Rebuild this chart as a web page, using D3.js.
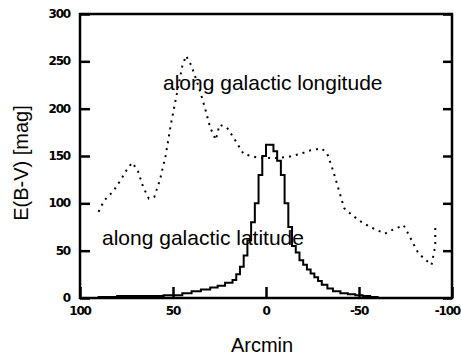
<!DOCTYPE html>
<html lang="en">
<head>
  <meta charset="UTF-8">
  <title>E(B-V) profiles</title>
  <script src="https://d3js.org/d3.v7.min.js"></script>
  <style>
    body { margin: 0; background: #fff; overflow: hidden; }
    .tick-label { font-family: "DejaVu Sans", sans-serif; font-weight: bold; font-size: 12px; letter-spacing: -1.2px; fill: #000; }
    .title { font-family: "Liberation Sans", Arial, sans-serif; fill: #000; }
  </style>
</head>
<body>
<svg id="chart" width="461" height="357"></svg>
<script>
const width = 461, height = 357;
const margin = { top: 14, right: 9, bottom: 59, left: 80 };

// along galactic longitude (dotted)
const lonX = [90, 87, 82, 78, 75, 72, 69, 66, 63, 60, 57, 54, 51, 48, 45, 43, 40, 36, 33, 30, 27, 25, 21, 17, 12, 8, 4, 0, -6, -12, -18, -24, -30, -33, -36, -39, -42, -46, -50, -56, -64, -68, -74, -78, -82, -86, -89, -91, -91];
const lonY = [91, 103, 113, 125, 135, 143, 135, 117, 105, 107, 125, 150, 185, 215, 245, 256, 245, 222, 202, 180, 167, 183, 180, 168, 152, 150, 148, 148, 148, 149, 152, 156, 158, 152, 135, 115, 95, 88, 82, 75, 68, 72, 77, 62, 47, 40, 35, 55, 79];

// along galactic latitude (solid, stepped)
const latX = [95, 90, 85, 80, 75, 70, 65, 60, 55, 50, 45, 40, 35, 30, 26, 22, 18, 16, 14, 12, 10, 8, 6, 4, 2, 0, -2, -4, -6, -8, -10, -12, -14, -16, -18, -20, -22, -24, -26, -28, -30, -33, -36, -40, -44, -48, -52, -56, -60];
const latY = [0, 1, 1, 2, 2, 2, 2, 2, 3, 3, 5, 7, 9, 11, 13, 16, 19, 25, 33, 45, 61, 80, 100, 130, 150, 162, 162, 155, 145, 130, 100, 75, 55, 48, 40, 35, 30, 26, 22, 18, 14, 10, 7, 5, 4, 3, 2, 1, 0];

const xTicks = [100, 50, 0, -50, -100];
const yTicks = [0, 50, 100, 150, 200, 250, 300];

const svg = d3.select("#chart");
const x = d3.scaleLinear().domain([100, -100]).range([margin.left, width - margin.right]);
const y = d3.scaleLinear().domain([0, 300]).range([height - margin.bottom, margin.top]);

// curves
const lonLine = d3.line().x(d => x(d[0])).y(d => y(d[1])).curve(d3.curveLinear);
svg.append("path")
  .datum(d3.zip(lonX, lonY))
  .attr("d", lonLine)
  .attr("fill", "none")
  .attr("stroke", "#000")
  .attr("stroke-width", 2)
  .attr("stroke-dasharray", "2,5");

const latLine = d3.line().x(d => x(d[0])).y(d => y(d[1])).curve(d3.curveStepAfter);
svg.append("path")
  .datum(d3.zip(latX, latY))
  .attr("d", latLine)
  .attr("fill", "none")
  .attr("stroke", "#000")
  .attr("stroke-width", 2);

// frame
svg.append("rect")
  .attr("x", x(100)).attr("y", y(300))
  .attr("width", x(-100) - x(100)).attr("height", y(0) - y(300))
  .attr("fill", "none").attr("stroke", "#000").attr("stroke-width", 2.5);

// inward ticks
const bottom = d3.axisBottom(x).tickValues(xTicks).tickSize(-11).tickFormat("");
svg.append("g").attr("transform", `translate(0,${y(0)})`).call(bottom)
  .call(g => g.select(".domain").remove())
  .selectAll("line").attr("stroke-width", 2.5);

const left = d3.axisLeft(y).tickValues(yTicks).tickSize(-10).tickFormat("");
svg.append("g").attr("transform", `translate(${x(100)},0)`).call(left)
  .call(g => g.select(".domain").remove())
  .selectAll("line").attr("stroke-width", 2.5);

const right = d3.axisRight(y).tickValues(yTicks).tickSize(-9).tickFormat("");
svg.append("g").attr("transform", `translate(${x(-100)},0)`).call(right)
  .call(g => g.select(".domain").remove())
  .selectAll("line").attr("stroke-width", 2.5);

// tick labels (last one pulled in so it stays on the page)
svg.selectAll(".xl").data(xTicks).join("text")
  .attr("class", "tick-label")
  .attr("x", d => d === -100 ? width - 1 : x(d)).attr("y", y(0) + 17)
  .attr("text-anchor", d => d === -100 ? "end" : "middle")
  .text(d => d);

svg.selectAll(".yl").data(yTicks).join("text")
  .attr("class", "tick-label")
  .attr("x", x(100) - 10).attr("y", d => y(d) + 4)
  .attr("text-anchor", "end")
  .text(d => d);

// titles
svg.append("text").attr("class", "title")
  .attr("x", 262).attr("y", 352)
  .attr("text-anchor", "middle").attr("font-size", 20)
  .text("Arcmin");

svg.append("text").attr("class", "title")
  .attr("transform", "translate(28,163) rotate(-90)")
  .attr("text-anchor", "middle").attr("font-size", 20)
  .text("E(B-V) [mag]");

svg.append("text").attr("class", "title")
  .attr("x", 163).attr("y", 90).attr("font-size", 21)
  .text("along galactic longitude");

svg.append("text").attr("class", "title")
  .attr("x", 102).attr("y", 245).attr("font-size", 21)
  .text("along galactic latitude");
</script>
</body>
</html>
